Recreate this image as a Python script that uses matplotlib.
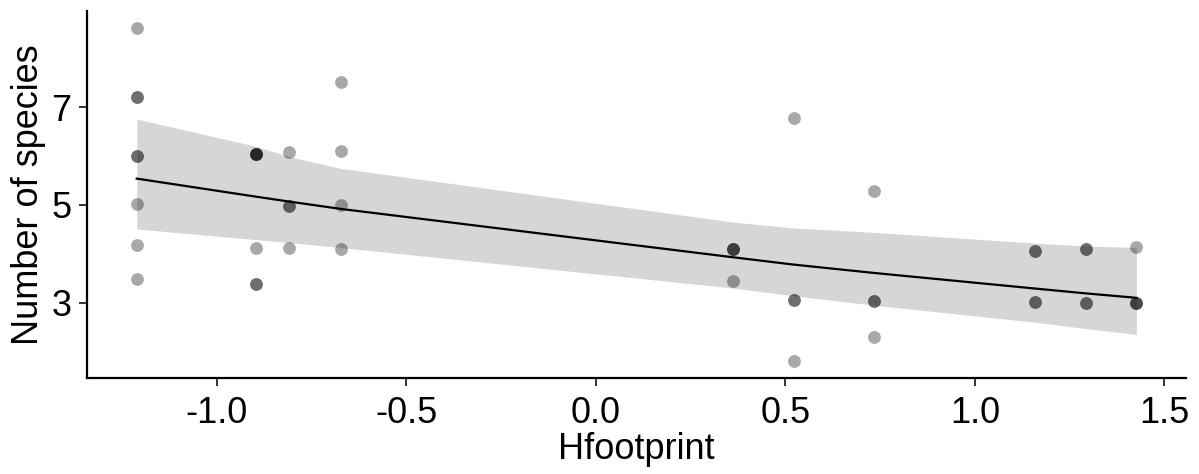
import matplotlib
matplotlib.use("Agg")
import matplotlib.pyplot as plt

# observed points (repeated entries = overlapping observations)
pt_x = [-1.211]*8 + [-0.896]*7 + [-0.809]*4 + [-0.673]*4 + [0.362]*4 + [0.522]*4 + [0.733]*4 + [1.159]*4 + [1.294]*4 + [1.426]*4
pt_y = ([8.63, 7.21, 7.21, 6.01, 6.01, 5.01, 4.18, 3.49] +
        [6.05, 6.05, 6.05, 6.05, 4.11, 3.39, 3.39] +
        [6.08, 4.98, 4.98, 4.11] +
        [7.51, 6.11, 4.99, 4.09] +
        [4.09, 4.09, 4.09, 3.44] +
        [6.78, 3.06, 3.06, 1.80] +
        [5.29, 3.04, 3.04, 2.30] +
        [4.06, 4.06, 3.01, 3.01] +
        [4.09, 4.09, 2.99, 2.99] +
        [4.15, 2.99, 2.99, 2.99])

# fitted line and confidence band at the observed x values
fit_x = [-1.211, -0.896, -0.809, -0.673, 0.362, 0.522, 0.733, 1.159, 1.294, 1.426]
fit_y = [5.54, 5.17, 5.07, 4.92, 3.93, 3.78, 3.61, 3.29, 3.19, 3.10]
ci_hi = [6.76, 6.20, 5.99, 5.75, 4.65, 4.53, 4.44, 4.22, 4.16, 4.13]
ci_lo = [4.51, 4.29, 4.23, 4.13, 3.30, 3.14, 2.95, 2.60, 2.47, 2.35]

x_ticks = [-1.0, -0.5, 0.0, 0.5, 1.0, 1.5]
x_labels = ["-1.0", "-0.5", "0.0", "0.5", "1.0", "1.5"]
y_ticks = [3, 5, 7]
y_labels = ["3", "5", "7"]

plt.rcParams['font.family'] = ['Liberation Sans', 'DejaVu Sans']

fig = plt.figure(figsize=(11.99, 4.74), dpi=100)
ax = fig.add_axes([0.0723, 0.2025, 0.9892 - 0.0723, 0.9768 - 0.2025])

ax.fill_between(fit_x, ci_lo, ci_hi, color="#999999", alpha=0.4, linewidth=0, zorder=1)
ax.scatter(pt_x, pt_y, s=85, color="black", alpha=0.34, linewidths=0, zorder=2)
ax.plot(fit_x, fit_y, color="black", lw=1.6, zorder=3)

ax.set_xlim(-1.343, 1.557)
ax.set_ylim(1.459, 8.97)
ax.set_xticks(x_ticks)
ax.set_xticklabels(x_labels)
ax.set_yticks(y_ticks)
ax.set_yticklabels(y_labels)

for s in ["top", "right"]:
    ax.spines[s].set_visible(False)
for s in ["left", "bottom"]:
    ax.spines[s].set_linewidth(1.6)
    ax.spines[s].set_color("black")

ax.tick_params(axis="both", length=6, width=1.4, color="#333333", labelsize=26, labelcolor="black")
ax.tick_params(axis="x", pad=7)
ax.tick_params(axis="y", pad=5)
ax.set_xlabel("Hfootprint", fontsize=26, labelpad=1)
ax.set_ylabel("Number of species", fontsize=26, labelpad=4)

fig.savefig("out.png", dpi=100)
